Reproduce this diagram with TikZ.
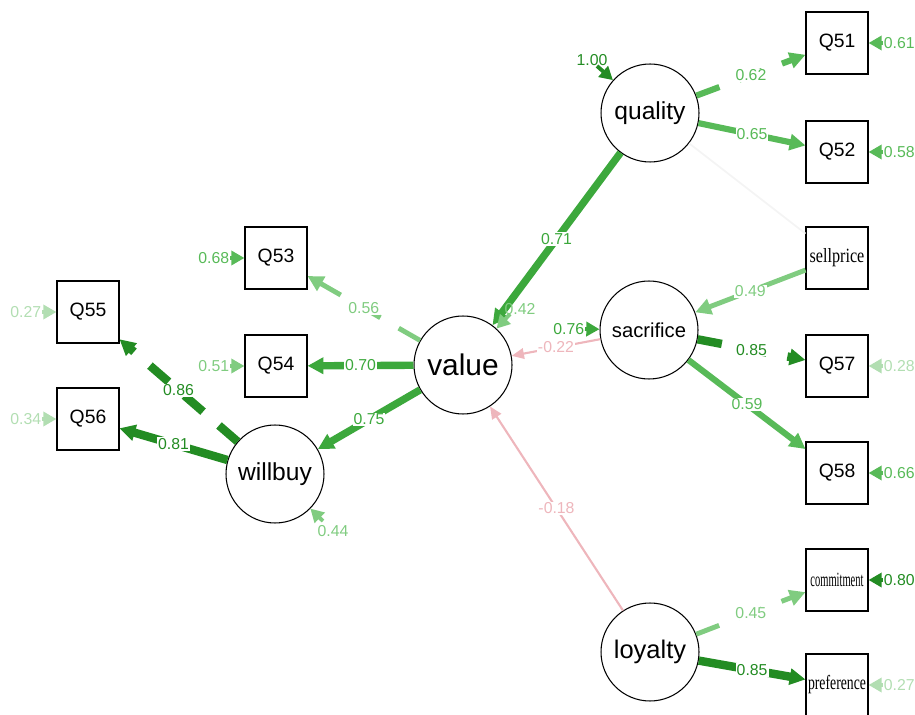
\documentclass[tikz,border=0pt]{standalone}
\usepackage{fontspec}
\setmainfont{Liberation Sans}
\newfontfamily\boxserif{Liberation Serif}
\usetikzlibrary{arrows.meta}
\definecolor{loadA}{RGB}{35,140,35}
\definecolor{loadB}{RGB}{60,168,60}
\definecolor{loadC}{RGB}{88,186,88}
\definecolor{loadD}{RGB}{128,204,128}
\definecolor{loadE}{RGB}{178,222,178}
\definecolor{negpink}{RGB}{238,182,188}
\definecolor{covgray}{RGB}{244,244,244}

\begin{document}
\begin{tikzpicture}[x=0.02cm,y=-0.02cm,>={Triangle[length=9pt,width=9pt]}]
  \tikzset{
    lat/.style={circle,draw=black,line width=0.6pt,minimum size=1.96cm,inner sep=0pt,font=\fontsize{14}{16}\selectfont},
    man/.style={rectangle,draw=black,line width=0.6pt,minimum size=1.24cm,inner sep=0pt,font=\fontsize{11}{13}\selectfont},
    obs/.style={man,font=\boxserif\fontsize{11.5}{13}\selectfont},
    lab/.style={font=\fontsize{9}{10}\selectfont,fill=white,inner sep=0.6pt},
    resl/.style={font=\fontsize{9}{10}\selectfont,inner sep=0.3pt},
    sA/.style={draw=loadA,text=loadA,line width=4.8pt,->},
    sB/.style={draw=loadB,text=loadB,line width=4.2pt,->},
    sC/.style={draw=loadC,text=loadC,line width=3.5pt,->},
    sD/.style={draw=loadD,text=loadD,line width=2.8pt,->},
    neg/.style={draw=negpink,text=negpink,line width=1.2pt,-{Triangle[length=7pt,width=6pt]}},
    fixload/.style={dash pattern=on 14pt off 12pt},
    res/.style={line width=2.2pt,-{Triangle[length=7.5pt,width=8pt]}},
  }
  \useasboundingbox (0,0) rectangle (915,715);

  \node[lat] (quality) at (650,113) {quality};
  \node[lat,font=\fontsize{11.5}{13}\selectfont] (sacrifice) at (649,330) {sacrifice};
  \node[lat,font=\fontsize{14.5}{16}\selectfont] (loyalty) at (650,652) {loyalty};
  \node[lat,font=\fontsize{17}{19}\selectfont] (value) at (463,365) {value};
  \node[lat] (willbuy) at (275,474) {willbuy};

  \node[man] (Q51) at (837,43) {Q51};
  \node[man] (Q52) at (837,152) {Q52};
  \node[obs] (sellprice) at (837,258) {\scalebox{0.8}[1]{sellprice}};
  \node[man] (Q57) at (837,366) {Q57};
  \node[man] (Q58) at (837,473) {Q58};
  \node[obs] (commitment) at (837,580) {\scalebox{0.52}[1]{commitment}};
  \node[obs] (preference) at (837,685) {\scalebox{0.68}[1]{preference}};
  \node[man] (Q53) at (276,258) {Q53};
  \node[man] (Q54) at (276,366) {Q54};
  \node[man] (Q55) at (88,312) {Q55};
  \node[man] (Q56) at (88,419) {Q56};

  \draw[covgray,line width=1pt] (quality) -- (sellprice);
  \draw[sC,fixload] (quality) -- node[lab]{0.62} (Q51);
  \draw[sC] (quality) -- node[lab]{0.65} (Q52);
  \draw[sB] (quality) -- node[lab]{0.71} (value);
  \draw[sD] (sellprice) -- node[lab]{0.49} (sacrifice);
  \draw[sA,fixload] (sacrifice) -- node[lab]{0.85} (Q57);
  \draw[sC] (sacrifice) -- node[lab]{0.59} (Q58);
  \draw[neg] (sacrifice) -- node[lab]{-0.22} (value);
  \draw[neg] (loyalty) -- node[lab]{-0.18} (value);
  \draw[sD,fixload] (loyalty) -- node[lab]{0.45} (commitment);
  \draw[sA] (loyalty) -- node[lab]{0.85} (preference);
  \draw[sD,fixload] (value) -- node[lab]{0.56} (Q53);
  \draw[sB] (value) -- node[lab]{0.70} (Q54);
  \draw[sB] (value) -- node[lab]{0.75} (willbuy);
  \draw[sA,fixload] (willbuy) -- node[lab]{0.86} (Q55);
  \draw[sA] (willbuy) -- node[lab]{0.81} (Q56);

  \coordinate (e51) at (883,43); \coordinate (e52) at (883,152);
  \coordinate (e57) at (883,366); \coordinate (e58) at (883,473);
  \coordinate (ecom) at (883,580); \coordinate (epref) at (883,685);
  \coordinate (e53) at (230,258); \coordinate (e54) at (230,366);
  \coordinate (e55) at (42,312); \coordinate (e56) at (42,419);
  \coordinate (equal) at (597,66); \coordinate (esac) at (585,329);
  \coordinate (eval) at (510,314); \coordinate (ewill) at (323,521);

  \draw[res,draw=loadC] (e51) -- (Q51);
  \draw[res,draw=loadC] (e52) -- (Q52);
  \draw[res,draw=loadE] (e57) -- (Q57);
  \draw[res,draw=loadC] (e58) -- (Q58);
  \draw[res,draw=loadA] (ecom) -- (commitment);
  \draw[res,draw=loadE] (epref) -- (preference);
  \draw[res,draw=loadC] (e53) -- (Q53);
  \draw[res,draw=loadD] (e54) -- (Q54);
  \draw[res,draw=loadE] (e55) -- (Q55);
  \draw[res,draw=loadE] (e56) -- (Q56);
  \draw[res,draw=loadA] (equal) -- (quality);
  \draw[res,draw=loadB] (esac) -- (sacrifice);
  \draw[res,draw=loadD] (eval) -- (value);
  \draw[res,draw=loadD] (ewill) -- (willbuy);

  \node[resl,text=loadC,anchor=west] (t51) at (e51) {0.61};
  \node[resl,text=loadC,anchor=west] (t52) at (e52) {0.58};
  \node[resl,text=loadE,anchor=west] (t57) at (e57) {0.28};
  \node[resl,text=loadC,anchor=west] (t58) at (e58) {0.66};
  \node[resl,text=loadA,anchor=west] (tcom) at (ecom) {0.80};
  \node[resl,text=loadE,anchor=west] (tpref) at (epref) {0.27};
  \node[resl,text=loadC,anchor=east] (t53) at (e53) {0.68};
  \node[resl,text=loadD,anchor=east] (t54) at (e54) {0.51};
  \node[resl,text=loadE,anchor=east] (t55) at (e55) {0.27};
  \node[resl,text=loadE,anchor=east] (t56) at (e56) {0.34};
  \node[resl,text=loadA] (tqual) at (592,60) {1.00};
  \node[resl,text=loadB,anchor=east] (tsac) at (esac) {0.76};
  \node[resl,text=loadD] (tval) at (520,309) {0.42};
  \node[resl,text=loadD] (twill) at (333,531) {0.44};
\end{tikzpicture}
\end{document}
